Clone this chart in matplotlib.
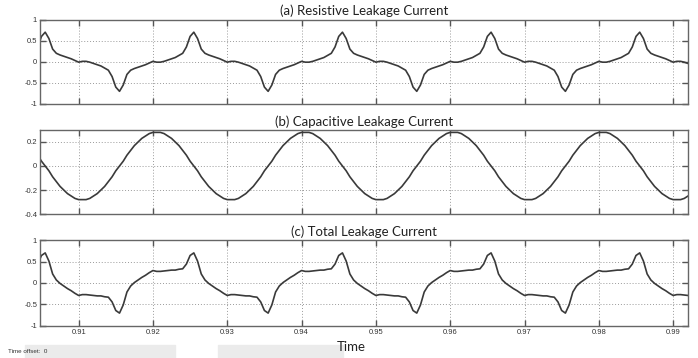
import numpy as np
import matplotlib
matplotlib.use("Agg")
import matplotlib.pyplot as plt
from matplotlib.patches import Rectangle

# sample times: 0.5 ms steps from 0.9045 s to 0.9920 s
t = np.round(np.arange(0.9045, 0.99201, 0.0005), 4)

# values, one row per 20 ms cycle
resistive = [
    0.35, 0.60, 0.70, 0.55, 0.30, 0.20, 0.16, 0.13, 0.10, 0.07,
    0.03, -0.01, 0.01, 0.01, -0.01, -0.04, -0.07, -0.10, -0.15, -0.20,
    -0.35, -0.60, -0.70, -0.55, -0.30, -0.20, -0.16, -0.13, -0.10, -0.07,
    -0.03, 0.01, -0.01, -0.01, 0.01, 0.04, 0.07, 0.10, 0.15, 0.20,
    0.35, 0.60, 0.70, 0.55, 0.30, 0.20, 0.16, 0.13, 0.10, 0.07,
    0.03, -0.01, 0.01, 0.01, -0.01, -0.04, -0.07, -0.10, -0.15, -0.20,
    -0.35, -0.60, -0.70, -0.55, -0.30, -0.20, -0.16, -0.13, -0.10, -0.07,
    -0.03, 0.01, -0.01, -0.01, 0.01, 0.04, 0.07, 0.10, 0.15, 0.20,
    0.35, 0.60, 0.70, 0.55, 0.30, 0.20, 0.16, 0.13, 0.10, 0.07,
    0.03, -0.01, 0.01, 0.01, -0.01, -0.04, -0.07, -0.10, -0.15, -0.20,
    -0.35, -0.60, -0.70, -0.55, -0.30, -0.20, -0.16, -0.13, -0.10, -0.07,
    -0.03, 0.01, -0.01, -0.01, 0.01, 0.04, 0.07, 0.10, 0.15, 0.20,
    0.35, 0.60, 0.70, 0.55, 0.30, 0.20, 0.16, 0.13, 0.10, 0.07,
    0.03, -0.01, 0.01, 0.01, -0.01, -0.04, -0.07, -0.10, -0.15, -0.20,
    -0.35, -0.60, -0.70, -0.55, -0.30, -0.20, -0.16, -0.13, -0.10, -0.07,
    -0.03, 0.01, -0.01, -0.01, 0.01, 0.04, 0.07, 0.10, 0.15, 0.20,
    0.35, 0.60, 0.70, 0.55, 0.30, 0.20, 0.16, 0.13, 0.10, 0.07,
    0.03, -0.01, 0.01, 0.01, -0.01, -0.04,
]

capacitive = [
    0.09, 0.04, 0.00, -0.04, -0.09, -0.13, -0.17, -0.20, -0.23, -0.25,
    -0.27, -0.28, -0.28, -0.28, -0.27, -0.25, -0.23, -0.20, -0.17, -0.13,
    -0.09, -0.04, 0.00, 0.04, 0.09, 0.13, 0.17, 0.20, 0.23, 0.25,
    0.27, 0.28, 0.28, 0.28, 0.27, 0.25, 0.23, 0.20, 0.17, 0.13,
    0.09, 0.04, 0.00, -0.04, -0.09, -0.13, -0.17, -0.20, -0.23, -0.25,
    -0.27, -0.28, -0.28, -0.28, -0.27, -0.25, -0.23, -0.20, -0.17, -0.13,
    -0.09, -0.04, 0.00, 0.04, 0.09, 0.13, 0.17, 0.20, 0.23, 0.25,
    0.27, 0.28, 0.28, 0.28, 0.27, 0.25, 0.23, 0.20, 0.17, 0.13,
    0.09, 0.04, 0.00, -0.04, -0.09, -0.13, -0.17, -0.20, -0.23, -0.25,
    -0.27, -0.28, -0.28, -0.28, -0.27, -0.25, -0.23, -0.20, -0.17, -0.13,
    -0.09, -0.04, 0.00, 0.04, 0.09, 0.13, 0.17, 0.20, 0.23, 0.25,
    0.27, 0.28, 0.28, 0.28, 0.27, 0.25, 0.23, 0.20, 0.17, 0.13,
    0.09, 0.04, 0.00, -0.04, -0.09, -0.13, -0.17, -0.20, -0.23, -0.25,
    -0.27, -0.28, -0.28, -0.28, -0.27, -0.25, -0.23, -0.20, -0.17, -0.13,
    -0.09, -0.04, 0.00, 0.04, 0.09, 0.13, 0.17, 0.20, 0.23, 0.25,
    0.27, 0.28, 0.28, 0.28, 0.27, 0.25, 0.23, 0.20, 0.17, 0.13,
    0.09, 0.04, 0.00, -0.04, -0.09, -0.13, -0.17, -0.20, -0.23, -0.25,
    -0.27, -0.28, -0.28, -0.28, -0.27, -0.25,
]

total = [
    0.44, 0.64, 0.70, 0.51, 0.21, 0.07, -0.01, -0.07, -0.13, -0.18,
    -0.24, -0.29, -0.27, -0.27, -0.28, -0.29, -0.30, -0.30, -0.32, -0.33,
    -0.44, -0.64, -0.70, -0.51, -0.21, -0.07, 0.01, 0.07, 0.13, 0.18,
    0.24, 0.29, 0.27, 0.27, 0.28, 0.29, 0.30, 0.30, 0.32, 0.33,
    0.44, 0.64, 0.70, 0.51, 0.21, 0.07, -0.01, -0.07, -0.13, -0.18,
    -0.24, -0.29, -0.27, -0.27, -0.28, -0.29, -0.30, -0.30, -0.32, -0.33,
    -0.44, -0.64, -0.70, -0.51, -0.21, -0.07, 0.01, 0.07, 0.13, 0.18,
    0.24, 0.29, 0.27, 0.27, 0.28, 0.29, 0.30, 0.30, 0.32, 0.33,
    0.44, 0.64, 0.70, 0.51, 0.21, 0.07, -0.01, -0.07, -0.13, -0.18,
    -0.24, -0.29, -0.27, -0.27, -0.28, -0.29, -0.30, -0.30, -0.32, -0.33,
    -0.44, -0.64, -0.70, -0.51, -0.21, -0.07, 0.01, 0.07, 0.13, 0.18,
    0.24, 0.29, 0.27, 0.27, 0.28, 0.29, 0.30, 0.30, 0.32, 0.33,
    0.44, 0.64, 0.70, 0.51, 0.21, 0.07, -0.01, -0.07, -0.13, -0.18,
    -0.24, -0.29, -0.27, -0.27, -0.28, -0.29, -0.30, -0.30, -0.32, -0.33,
    -0.44, -0.64, -0.70, -0.51, -0.21, -0.07, 0.01, 0.07, 0.13, 0.18,
    0.24, 0.29, 0.27, 0.27, 0.28, 0.29, 0.30, 0.30, 0.32, 0.33,
    0.44, 0.64, 0.70, 0.51, 0.21, 0.07, -0.01, -0.07, -0.13, -0.18,
    -0.24, -0.29, -0.27, -0.27, -0.28, -0.29,
]

titles = ["(a) Resistive Leakage Current",
          "(b) Capacitive Leakage Current",
          "(c) Total Leakage Current"]
xticks = [0.91, 0.92, 0.93, 0.94, 0.95, 0.96, 0.97, 0.98, 0.99]
yticks_ac = [-1, -0.5, 0, 0.5, 1]
yticks_b = [-0.4, -0.2, 0, 0.2]

fig = plt.figure(figsize=(6.98, 3.58), dpi=100)

# grey bands at the bottom (from the screenshot)
fig.patches.append(Rectangle((25 / 698, 0), 150 / 698, 13 / 358,
                             transform=fig.transFigure, color="#ebebeb", zorder=0))
fig.patches.append(Rectangle((218 / 698, 0), 125 / 698, 13 / 358,
                             transform=fig.transFigure, color="#ebebeb", zorder=0))

boxes = [(0.0573, 0.7095, 0.9284, 0.236),
         (0.0573, 0.4022, 0.9284, 0.2347),
         (0.0573, 0.0894, 0.9284, 0.2402)]
series = [resistive, capacitive, total]
ylims = [(-1, 1), (-0.4, 0.3), (-1, 1)]
yticks = [yticks_ac, yticks_b, yticks_ac]

for i in range(3):
    ax = fig.add_axes(boxes[i])
    ax.plot(t, series[i], color="#3a3a3a", lw=1.2)
    ax.set_xlim(0.9048, 0.992)
    ax.set_ylim(*ylims[i])
    ax.set_xticks(xticks)
    ax.set_yticks(yticks[i])
    ax.set_yticklabels([f"{v:g}" for v in yticks[i]])
    ax.grid(True, linestyle=(0, (1, 2)), color="#9a9a9a", lw=0.7)
    ax.tick_params(direction="in", top=True, right=True, length=4, width=1,
                   color="#555555", labelsize=5.5, labelcolor="#333333", pad=2)
    for s in ax.spines.values():
        s.set_color("#666666")
        s.set_linewidth(1.0)
    if i < 2:
        ax.set_xticklabels([])
    else:
        ax.set_xticklabels([f"{v:g}" for v in xticks])
    for lab in ax.get_xticklabels() + ax.get_yticklabels():
        lab.set_fontfamily("Liberation Sans")
    ax.set_title(titles[i], fontsize=9.5, family="Lato", pad=3, color="#222222")

fig.text(0.503, 0.03, "Time", fontsize=9.5, family="Lato", ha="center",
         va="center", color="#222222")
fig.text(0.012, 0.017, "Time offset:  0", fontsize=4.5, family="Liberation Sans",
         ha="left", va="center", color="#333333")

fig.savefig("out.png", dpi=100)
